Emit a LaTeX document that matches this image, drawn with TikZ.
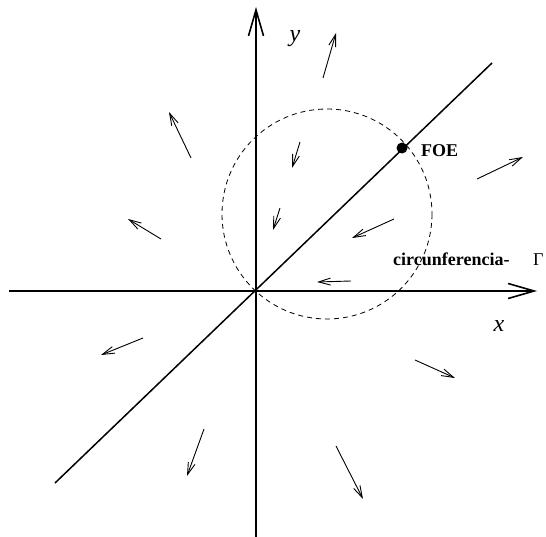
\documentclass[tikz,border=0pt]{standalone}
\usepackage{fontspec}
\setmainfont{Liberation Serif}
\usetikzlibrary{arrows.meta}

\begin{document}
\begin{tikzpicture}[x=1pt,y=-1pt,
  axis/.style={line width=1.6pt,-{Straight Barb[length=26pt,width=15pt]}},
  flow/.style={line width=0.9pt,-{Straight Barb[length=12pt,width=7pt]}},
  boldlbl/.style={inner sep=0pt,font=\fontsize{18}{21}\selectfont\bfseries},
  axlbl/.style={inner sep=0pt,font=\fontsize{24}{28}\selectfont\itshape}]
\useasboundingbox (0,0) rectangle (546,537);

% axes
\coordinate (O) at (256,291);
\coordinate (xl) at (9,291);
\coordinate (xr) at (537,291);
\coordinate (yb) at (256,537);
\coordinate (yt) at (256,7);
\draw[axis] (xl) -- (xr);
\draw[axis] (yb) -- (yt);
\node[axlbl] (xlab) at (499,326) {x};
\node[axlbl] (ylab) at (295,39) {y};

% circle and line through the FOE
\coordinate (ctr) at (327,214);
\draw[dash pattern=on 5pt off 4pt,line width=0.8pt] (ctr) circle[radius=105];
\coordinate (dlo) at (55,483);
\coordinate (dhi) at (492,63);
\draw[line width=1.5pt] (dlo) -- (dhi);
\node[circle,fill,inner sep=0pt,minimum size=11pt] (foe) at (402,148) {};
\node[boldlbl,anchor=west] (foelab) at (421,151) {FOE};
\node[boldlbl,anchor=base west] (circlab) at (393,266) {circunferencia-};
\node[inner sep=0pt,anchor=base west,font=\fontsize{18}{21}\selectfont] (gam) at (533,266) {Γ};

% flow vectors
\foreach \xa/\ya/\xb/\yb in {323/78/336/33, 191/158/169/112, 161/239/128/219,
  300/142/292/168, 280/208/273/230, 394/219/352/238, 351/281/317/282,
  477/179/523/157, 415/360/455/378, 143/338/101/355, 204/429/187/476,
  336/446/363/499}
  \draw[flow] (\xa,\ya) -- (\xb,\yb);
\end{tikzpicture}
\end{document}
